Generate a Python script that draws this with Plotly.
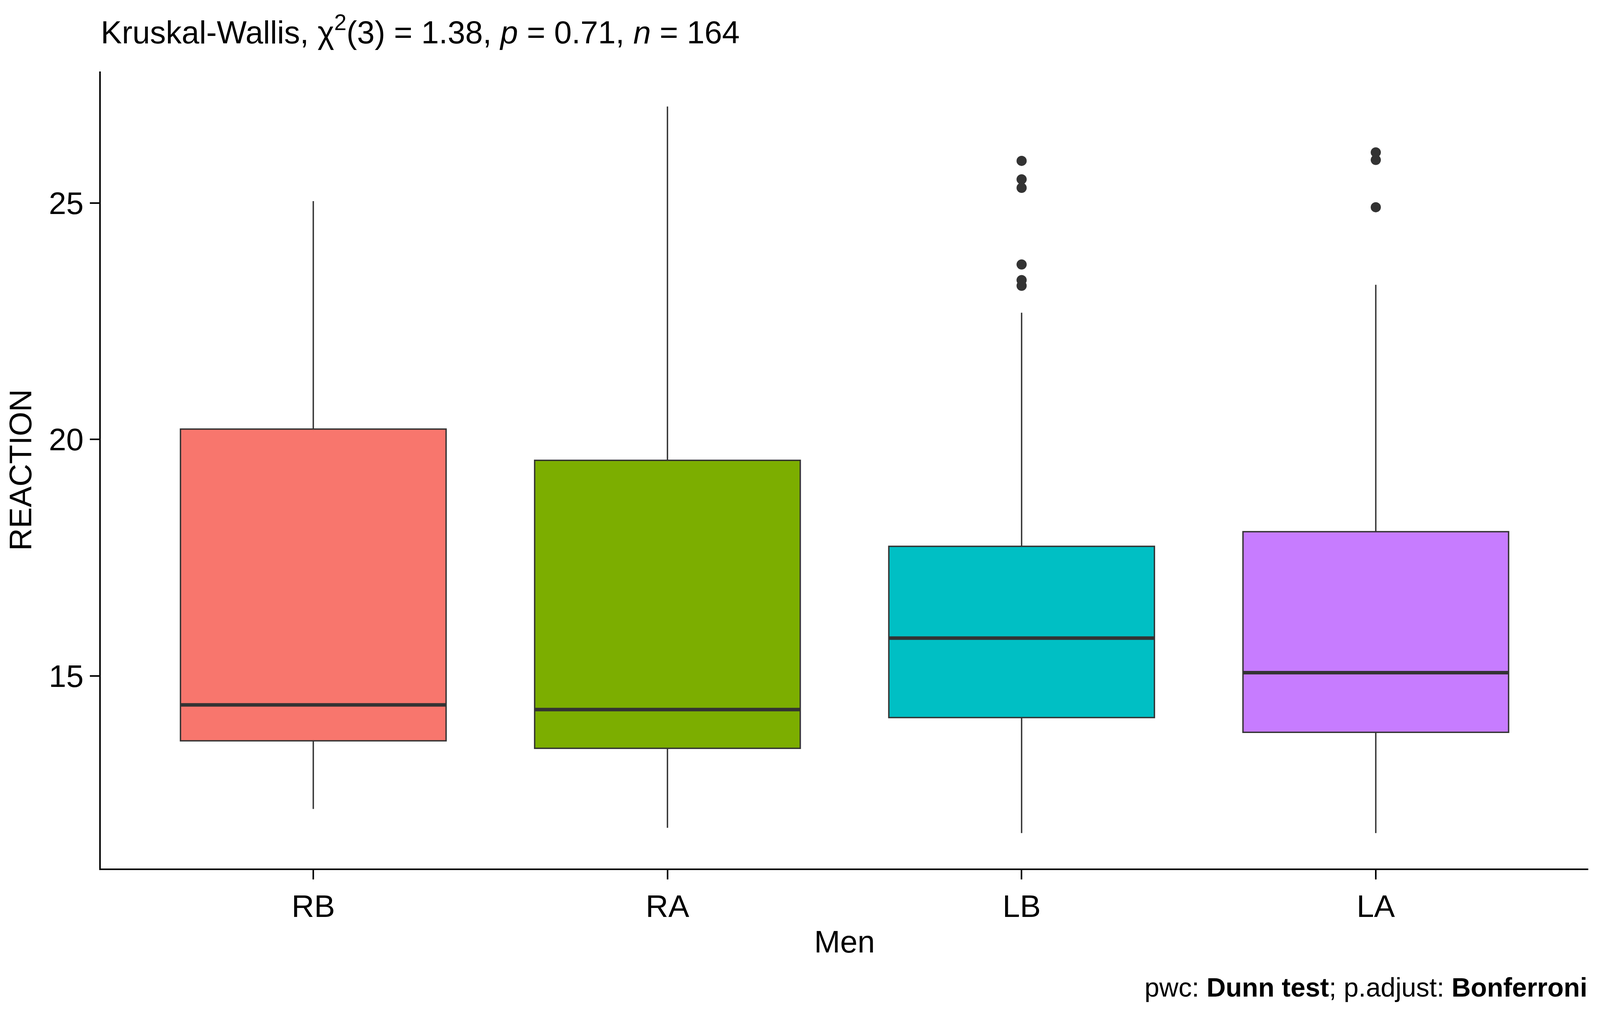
import plotly.graph_objects as go

# Box summary (ggpubr-style Kruskal-Wallis boxplot)
groups = ["RB", "RA", "LB", "LA"]
colors = ["#F8766D", "#7CAE00", "#00BFC4", "#C77CFF"]
lower_whisker = [12.19, 11.79, 11.68, 11.68]
q1 = [13.63, 13.47, 14.12, 13.81]
median = [14.39, 14.29, 15.80, 15.07]
q3 = [20.22, 19.56, 17.74, 18.05]
upper_whisker = [25.04, 27.04, 22.68, 23.27]

# Outliers per group
outliers = {
    "RB": [],
    "RA": [],
    "LB": [25.89, 25.50, 25.32, 23.70, 23.37, 23.25],
    "LA": [26.07, 25.91, 24.91],
}

y_ticks = [15, 20, 25]

font = "Liberation Sans, Arial, sans-serif"
dark = "#333333"
box_width = 0.75

# height fixed, width follows the window (body has an 8px margin)
H = 2578
M_TOP, M_BOT = 175, 362

fig = go.Figure()

for i, g in enumerate(groups):
    fig.add_trace(
        go.Box(
            x=[i],
            q1=[q1[i]],
            median=[median[i]],
            q3=[q3[i]],
            lowerfence=[lower_whisker[i]],
            upperfence=[upper_whisker[i]],
            width=box_width,
            whiskerwidth=0,
            fillcolor=colors[i],
            line=dict(color=dark, width=3.5),
            boxpoints=False,
            showlegend=False,
            hoverinfo="skip",
        )
    )
    # thicker median line, as in ggplot
    fig.add_trace(
        go.Scatter(
            x=[i - box_width / 2, i + box_width / 2],
            y=[median[i], median[i]],
            mode="lines",
            line=dict(color=dark, width=9),
            showlegend=False,
            hoverinfo="skip",
        )
    )
    if outliers[g]:
        fig.add_trace(
            go.Scatter(
                x=[i] * len(outliers[g]),
                y=outliers[g],
                mode="markers",
                marker=dict(color=dark, size=26),
                showlegend=False,
                hoverinfo="skip",
            )
        )

fig.update_layout(
    autosize=True,
    height=H,
    margin=dict(l=250, r=22, t=M_TOP, b=M_BOT),
    plot_bgcolor="white",
    paper_bgcolor="white",
    font=dict(family=font, color="black", size=80),
    title=dict(
        text="Kruskal-Wallis, χ<sup>2</sup>(3) = 1.38, <i>p</i> = 0.71, <i>n</i> = 164",
        xref="paper",
        x=0,
        xanchor="left",
        y=1 - 75 / H,
        yanchor="middle",
        font=dict(size=81, color="black"),
    ),
    xaxis=dict(
        range=[-0.6, 3.6],
        tickvals=list(range(len(groups))),
        ticktext=groups,
        showline=True,
        linecolor="black",
        linewidth=4,
        ticks="outside",
        ticklen=24,
        tickwidth=4,
        tickcolor="black",
        showgrid=False,
        zeroline=False,
        tickfont=dict(size=80, color="black"),
        title=dict(text="Men", font=dict(size=80, color="black"), standoff=20),
    ),
    yaxis=dict(
        range=[10.93, 27.78],
        tickvals=y_ticks,
        showline=True,
        linecolor="black",
        linewidth=4,
        ticks="outside",
        ticklen=24,
        tickwidth=4,
        tickcolor="black",
        showgrid=False,
        zeroline=False,
        tickfont=dict(size=80, color="black"),
        title=dict(text="REACTION", font=dict(size=80, color="black"), standoff=30),
    ),
    annotations=[
        dict(
            text="pwc: <b>Dunn test</b>; p.adjust: <b>Bonferroni</b>",
            xref="paper",
            yref="paper",
            x=1,
            y=-304 / (H - M_TOP - M_BOT),
            xanchor="right",
            yanchor="middle",
            showarrow=False,
            font=dict(size=68, color="black"),
        )
    ],
)

fig.write_html("out.html", default_width="100%", config={"responsive": True})
